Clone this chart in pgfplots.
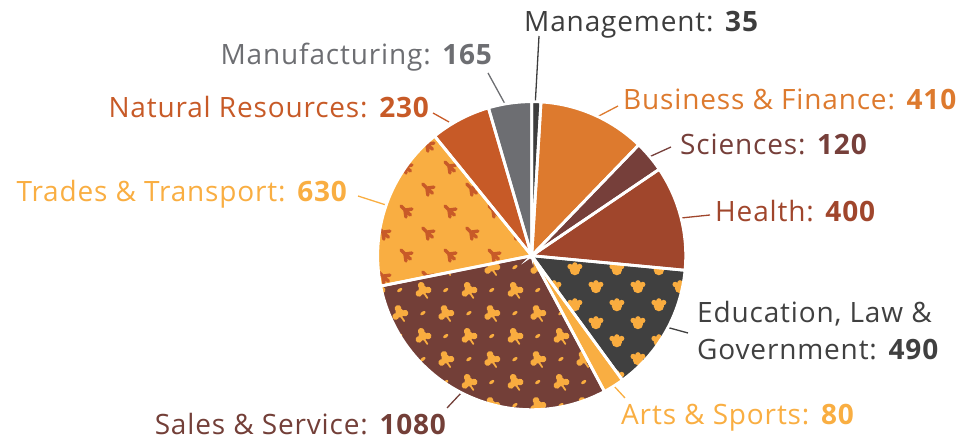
\documentclass[border=0pt]{standalone}
\usepackage{pgfplots}
\pgfplotsset{compat=1.18}
\usepackage{pgfplotstable}
\usetikzlibrary{patterns.meta}
\usepackage{fontspec}
\setmainfont{Open Sans}[LetterSpace=3]

\definecolor{cMgmt}{HTML}{3D3D3D}
\definecolor{cBus}{HTML}{DD7A2E}
\definecolor{cSci}{HTML}{763F3A}
\definecolor{cHealth}{HTML}{A0462C}
\definecolor{cEdu}{HTML}{404040}
\definecolor{cArts}{HTML}{F9AE42}
\definecolor{cSales}{HTML}{733F38}
\definecolor{cTrades}{HTML}{F9AE42}
\definecolor{cNat}{HTML}{C75A27}
\definecolor{cMan}{HTML}{6D6E72}
\definecolor{pOrange}{HTML}{F9AC3F}
\definecolor{pRust}{HTML}{C85A28}

% bird tracks
\tikzdeclarepattern{
  name=tracks, type=uncolored,
  bottom left={(0pt,0pt)}, top right={(44pt,44pt)}, tile size={(44pt,44pt)},
  code={
    \foreach \px/\py in {11/11, 33/33}{
      \begin{scope}[shift={(\px pt,\py pt)}]
        \draw[line width=3.4pt, line cap=round]
          (-4pt,4pt) -- (0pt,0pt)
          (0pt,0pt) -- (1pt,-7pt)
          (0pt,0pt) -- (5.5pt,-5pt)
          (0pt,0pt) -- (7pt,1pt);
      \end{scope}
    }
  }
}
% tulip blobs
\tikzdeclarepattern{
  name=tulips, type=uncolored,
  bottom left={(0pt,0pt)}, top right={(42pt,36pt)}, tile size={(42pt,36pt)},
  code={
    \foreach \px/\py in {10/9, 31/27}{
      \begin{scope}[shift={(\px pt,\py pt)}]
        \fill (0pt,0pt) circle[radius=5.2pt]
              (-4.8pt,3.6pt) circle[radius=2.7pt]
              (0pt,5.2pt) circle[radius=2.7pt]
              (4.8pt,3.6pt) circle[radius=2.7pt];
      \end{scope}
    }
  }
}
% leaves
\tikzdeclarepattern{
  name=leaves, type=uncolored,
  bottom left={(0pt,0pt)}, top right={(46pt,46pt)}, tile size={(46pt,46pt)},
  code={
    \foreach \px/\py in {11/12, 34/35}{
      \begin{scope}[shift={(\px pt,\py pt)}, rotate=20]
        \fill (0pt,0pt) circle[radius=4.6pt]
              (0pt,5pt) circle[radius=3.4pt]
              (-5pt,-1.8pt) circle[radius=3.3pt]
              (5pt,-1.8pt) circle[radius=3.3pt];
        \draw[line width=1.8pt, line cap=round] (0pt,-3pt) -- (1.5pt,-9pt);
      \end{scope}
    }
    \foreach \px/\py in {34/12, 11/35}{
      \fill[rotate around={35:(\px pt,\py pt)}] (\px pt,\py pt) ellipse[x radius=3pt, y radius=1.6pt];
    }
  }
}

\pgfplotsset{
  slice0/.style={fill=cMgmt},
  slice1/.style={fill=cBus},
  slice2/.style={fill=cSci},
  slice3/.style={fill=cHealth},
  slice4/.style={fill=cEdu, postaction={pattern={tulips}, pattern color=pOrange}},
  slice5/.style={fill=cArts},
  slice6/.style={fill=cSales, postaction={pattern={leaves}, pattern color=pOrange}},
  slice7/.style={fill=cTrades, postaction={pattern={tracks}, pattern color=pRust}},
  slice8/.style={fill=cNat},
  slice9/.style={fill=cMan},
}

\pgfplotstableread{
name value
Management 35
Business 410
Sciences 120
Health 400
Education 490
Arts 80
Sales 1080
Trades 630
Natural 230
Manufacturing 165
}\piedata

% cumulative angles (clockwise from 12 o'clock)
\def\total{0}
\pgfplotstableforeachcolumnelement{value}\of\piedata\as\v{%
  \pgfmathsetmacro\tmp{\total+\v}\xdef\total{\tmp}}
\def\run{0}
\pgfplotstableforeachcolumnelement{value}\of\piedata\as\v{%
  \pgfmathsetmacro\tmpA{90-360*(\run/\total)}%
  \pgfmathsetmacro\tmpR{\run+\v}%
  \pgfmathsetmacro\tmpB{90-360*(\tmpR/\total)}%
  \expandafter\xdef\csname sa\pgfplotstablerow\endcsname{\tmpB}%
  \expandafter\xdef\csname sb\pgfplotstablerow\endcsname{\tmpA}%
  \xdef\run{\tmpR}}

\def\cx{531.7}
\def\cy{-255.7}
\def\rr{154}
\newcommand\lbl{\fontsize{28bp}{32bp}\selectfont}

\begin{document}
\begin{tikzpicture}
\begin{axis}[
  width=974bp, height=440bp, scale only axis,
  xmin=0, xmax=974, ymin=-440, ymax=0,
  hide axis, clip=false,
]
\path (axis cs:0,0) rectangle (axis cs:974,-440);
% leader lines
\draw[cMgmt, line width=1.3bp] (axis cs:539,-36) -- (axis cs:535,-108);
\draw[cBus, line width=1.3bp] (axis cs:618,-106) -- (axis cs:595,-118);
\draw[cSci, line width=1.3bp] (axis cs:671,-147) -- (axis cs:649,-157);
\draw[cHealth, line width=1.3bp] (axis cs:710,-215) -- (axis cs:681,-218);
\draw[cEdu, line width=1.3bp] (axis cs:688,-333) -- (axis cs:666,-327);
\draw[cArts, line width=1.3bp] (axis cs:625,-398) -- (axis cs:613,-385);
\draw[cSales, line width=1.3bp] (axis cs:447,-408) -- (axis cs:462,-392);
\draw[cTrades, line width=1.3bp] (axis cs:358,-196) -- (axis cs:386,-205);
\draw[cNat, line width=1.3bp] (axis cs:433,-113) -- (axis cs:449,-122);
\draw[cMan, line width=1.3bp] (axis cs:488,-73) -- (axis cs:505,-104);

% slices
\pgfplotsinvokeforeach{0,...,9}{
  \edef\sa{\csname sa#1\endcsname}\edef\sb{\csname sb#1\endcsname}
  \addplot[slice#1, draw=none, domain=\sa:\sb, samples=90, variable=\t]
    ({\cx+\rr*cos(\t)},{\cy+\rr*sin(\t)}) -- (axis cs:\cx,\cy) -- cycle;
}
% white separators
\pgfplotsinvokeforeach{0,...,9}{
  \edef\sa{\csname sa#1\endcsname}\edef\sb{\csname sb#1\endcsname}
  \addplot[draw=white, line width=2.8bp, line join=miter, fill=none, domain=\sa:\sb, samples=90, variable=\t]
    ({\cx+\rr*cos(\t)},{\cy+\rr*sin(\t)}) -- (axis cs:\cx,\cy) -- cycle;
}

% labels
\node[anchor=base west, inner sep=0, text=cMgmt, font=\lbl] at (axis cs:524,-32) {Management: \textbf{35}};
\node[anchor=base west, inner sep=0, text=cBus, font=\lbl] at (axis cs:623,-110) {Business \& Finance: \textbf{410}};
\node[anchor=base west, inner sep=0, text=cSci, font=\lbl] at (axis cs:680,-155) {Sciences: \textbf{120}};
\node[anchor=base west, inner sep=0, text=cHealth, font=\lbl] at (axis cs:715,-222) {Health: \textbf{400}};
\node[anchor=base west, inner sep=0, text=cEdu, font=\lbl] at (axis cs:697,-323) {Education, Law \&};
\node[anchor=base west, inner sep=0, text=cEdu, font=\lbl] at (axis cs:697,-360) {Government: \textbf{490}};
\node[anchor=base west, inner sep=0, text=cArts, font=\lbl] at (axis cs:621,-425) {Arts \& Sports: \textbf{80}};
\node[anchor=base east, inner sep=0, text=cSales, font=\lbl] at (axis cs:447,-435) {Sales \& Service: \textbf{1080}};
\node[anchor=base east, inner sep=0, text=cTrades, font=\lbl] at (axis cs:348,-202) {Trades \& Transport: \textbf{630}};
\node[anchor=base east, inner sep=0, text=cNat, font=\lbl] at (axis cs:430,-118) {Natural Resources: \textbf{230}};
\node[anchor=base east, inner sep=0, text=cMan, font=\lbl] at (axis cs:493,-65) {Manufacturing: \textbf{165}};
\end{axis}
\end{tikzpicture}
\end{document}
